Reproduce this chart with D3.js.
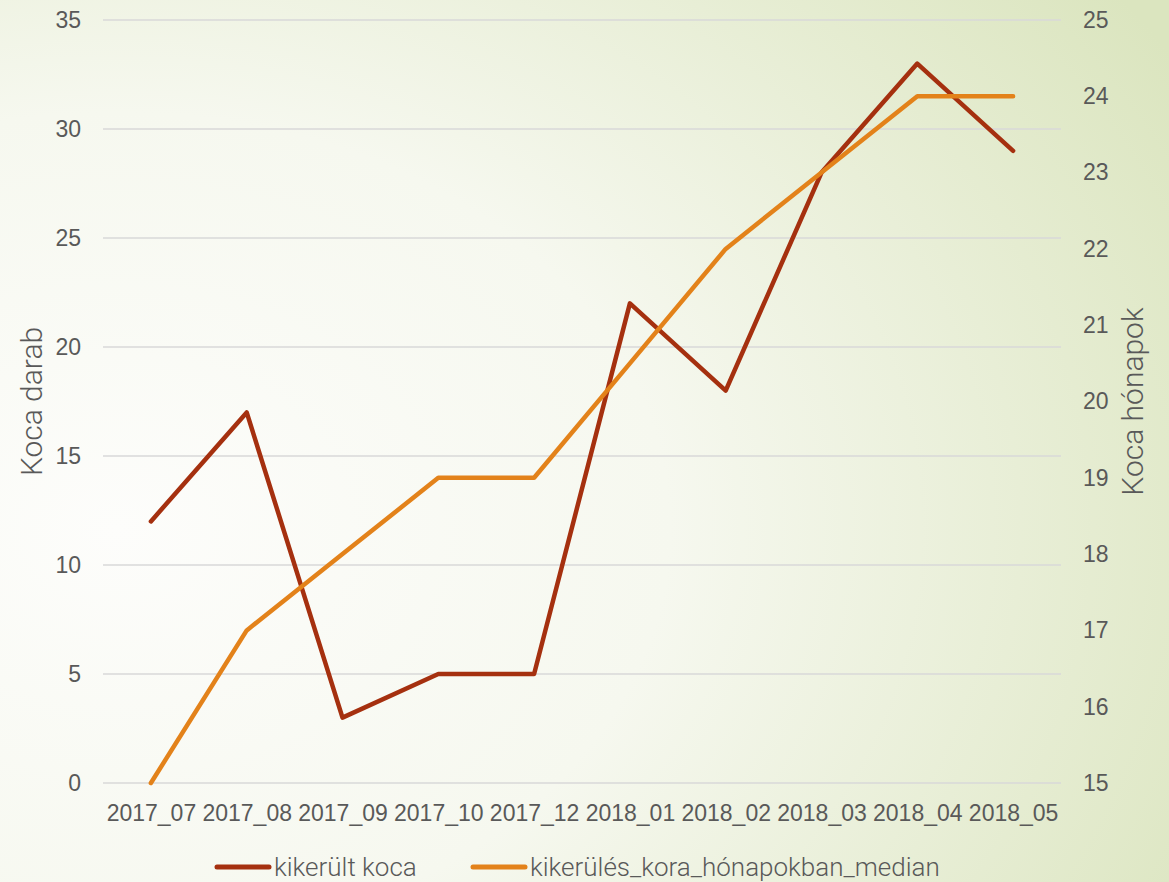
<!DOCTYPE html>
<html lang="hu">
<head>
    <meta charset="UTF-8">
    <title>Kikerült koca</title>
    <script src="https://d3js.org/d3.v7.min.js"></script>
    <style>
        body { margin: 0; padding: 0; }
        svg { display: block; font-family: Roboto, "Liberation Sans", sans-serif; font-weight: 300; }
        .tick text { fill: #595959; }
    </style>
</head>
<body>
    <svg width="1169" height="882"></svg>
    <script>
        // Data
        const months = ["2017_07", "2017_08", "2017_09", "2017_10", "2017_12",
                        "2018_01", "2018_02", "2018_03", "2018_04", "2018_05"];
        const kikerultKoca = [12, 17, 3, 5, 5, 22, 18, 28, 33, 29];
        const koraMedian = [15, 17, 18, 19, 19, 20.5, 22, 23, 24, 24];
        const leftTicks = [0, 5, 10, 15, 20, 25, 30, 35];
        const rightTicks = [15, 16, 17, 18, 19, 20, 21, 22, 23, 24, 25];

        const svg = d3.select("svg"),
            W = +svg.attr("width"), H = +svg.attr("height"),
            margin = { top: 20, right: 108, bottom: 99, left: 103 },
            width = W - margin.left - margin.right,
            height = H - margin.top - margin.bottom;

        // Background gradient
        const defs = svg.append("defs");
        const grad = defs.append("radialGradient")
            .attr("id", "bg").attr("cx", "0.1").attr("cy", "0.6").attr("r", "1.05");
        grad.append("stop").attr("offset", "0").attr("stop-color", "#fdfdfb");
        grad.append("stop").attr("offset", "0.45").attr("stop-color", "#f6f8ef");
        grad.append("stop").attr("offset", "1").attr("stop-color", "#dbe5bf");
        svg.append("rect").attr("width", W).attr("height", H).attr("fill", "url(#bg)");

        const g = svg.append("g").attr("transform", `translate(${margin.left},${margin.top})`);

        const x = d3.scalePoint().domain(months).range([0, width]).padding(0.5);
        const yL = d3.scaleLinear().domain([0, 35]).range([height, 0]);
        const yR = d3.scaleLinear().domain([15, 25]).range([height, 0]);

        // Grid lines
        g.append("g")
            .selectAll("line").data(leftTicks).enter().append("line")
            .attr("x1", 0).attr("x2", width)
            .attr("y1", d => yL(d)).attr("y2", d => yL(d))
            .attr("stroke", "#d9d9d9").attr("stroke-width", 1.5);

        // Axes
        const leftAxis = g.append("g")
            .call(d3.axisLeft(yL).tickValues(leftTicks).tickSize(0).tickPadding(22));
        leftAxis.select(".domain").remove();
        leftAxis.selectAll("text").style("font-size", "23px");

        const rightAxis = g.append("g")
            .attr("transform", `translate(${width},0)`)
            .call(d3.axisRight(yR).tickValues(rightTicks).tickSize(0).tickPadding(22));
        rightAxis.select(".domain").remove();
        rightAxis.selectAll("text").style("font-size", "23px");

        const bottomAxis = g.append("g")
            .attr("transform", `translate(0,${height})`)
            .call(d3.axisBottom(x).tickSize(0).tickPadding(22));
        bottomAxis.select(".domain").remove();
        bottomAxis.selectAll("text").style("font-size", "23px");

        // Axis titles
        svg.append("text")
            .attr("transform", `translate(42,${margin.top + height / 2}) rotate(-90)`)
            .attr("text-anchor", "middle")
            .attr("fill", "#595959").style("font-size", "30px")
            .text("Koca darab");

        svg.append("text")
            .attr("transform", `translate(1143,${margin.top + height / 2}) rotate(-90)`)
            .attr("text-anchor", "middle")
            .attr("fill", "#595959").style("font-size", "30px")
            .text("Koca hónapok");

        // Lines
        const lineL = d3.line().x((d, i) => x(months[i])).y(d => yL(d));
        const lineR = d3.line().x((d, i) => x(months[i])).y(d => yR(d));

        g.append("path").datum(kikerultKoca)
            .attr("d", lineL).attr("fill", "none")
            .attr("stroke", "#a5300f").attr("stroke-width", 4.5)
            .attr("stroke-linejoin", "round").attr("stroke-linecap", "round");

        g.append("path").datum(koraMedian)
            .attr("d", lineR).attr("fill", "none")
            .attr("stroke", "#e3821a").attr("stroke-width", 4.5)
            .attr("stroke-linejoin", "round").attr("stroke-linecap", "round");

        // Legend
        const legendItems = [
            { name: "kikerült koca", color: "#a5300f", x: 217 },
            { name: "kikerülés_kora_hónapokban_median", color: "#e3821a", x: 473 }
        ];
        const legend = svg.append("g").attr("transform", "translate(0,867)");
        legendItems.forEach(item => {
            legend.append("line")
                .attr("x1", item.x).attr("x2", item.x + 52)
                .attr("y1", 0).attr("y2", 0)
                .attr("stroke", item.color).attr("stroke-width", 5)
                .attr("stroke-linecap", "round");
            legend.append("text")
                .attr("x", item.x + 57).attr("y", 0).attr("dy", "0.35em")
                .attr("fill", "#595959").style("font-size", "26px")
                .text(item.name);
        });
    </script>
</body>
</html>
